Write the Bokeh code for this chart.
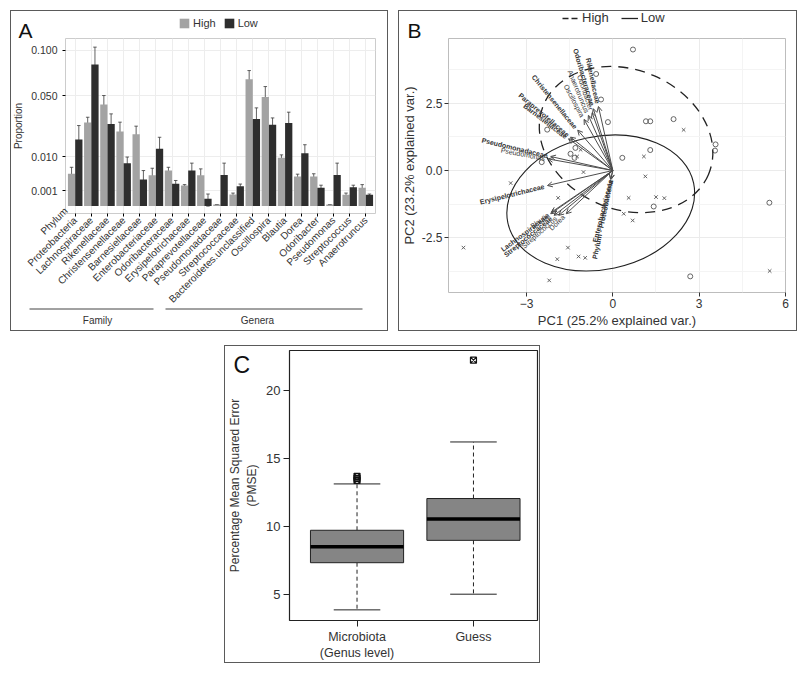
import numpy as np
from bokeh.plotting import figure
from bokeh.models import (FactorRange, ColumnDataSource, Whisker, TeeHead, Legend, LegendItem,
                          FixedTicker, CustomJSTickFormatter, NumeralTickFormatter, Label,
                          Arrow, OpenHead, Range1d, Div)
from bokeh.transform import dodge
from bokeh.embed import file_html
from bokeh.resources import INLINE
from bokeh.core.properties import value

FONT = "Liberation Sans"
TXT = "#333333"
HIGH_C = "#a3a3a3"
LOW_C = "#2e2e2e"

# ---------------- Panel A data ----------------
taxa = ["Phylum\nProteobacteria\n", "Lachnospiraceae", "Rikenellaceae", "Christensenellaceae",
        "Barnesiellaceae", "Enterobacteriaceae", "Odoribacteraceae", "Erysipelotrichaceae",
        "Paraprevotellaceae", "Pseudomonadaceae", "Streptococcaceae", "Bacteroidetes.unclassified",
        "Oscillospira", "Blautia", "Dorea", "Odoribacter", "Pseudomonas", "Streptococcus",
        "Anaerotruncus"]
high_mean = [0.0043, 0.0288, 0.0424, 0.0229, 0.0213, 0.0039, 0.0052, 0.00175, 0.0039, 0.00001,
             0.00055, 0.0662, 0.0490, 0.0096, 0.0036, 0.0036, 0.00001, 0.00052, 0.00138]
high_lo = [0.0020, 0.0256, 0.0338, 0.0160, 0.0160, 0.0020, 0.0043, 0.0016, 0.00147, 0.00001,
           0.00043, 0.0566, 0.0397, 0.0081, 0.0031, 0.0030, 0.00001, 0.0004, 0.00095]
high_hi = [0.0062, 0.0325, 0.0503, 0.0290, 0.0263, 0.0059, 0.0062, 0.0019, 0.0057, 0.00001,
           0.0007, 0.0756, 0.0588, 0.0108, 0.0042, 0.0043, 0.00001, 0.0007, 0.0019]
low_mean = [0.0183, 0.0825, 0.0278, 0.0076, 0.0029, 0.0135, 0.00205, 0.0052, 0.00022, 0.0040,
            0.00163, 0.0313, 0.0272, 0.0285, 0.0115, 0.00138, 0.0040, 0.00147, 0.00052]
low_lo = [0.0120, 0.0649, 0.0205, 0.0052, 0.0010, 0.0086, 0.00147, 0.0033, 0.0, 0.00147,
          0.0013, 0.0225, 0.0215, 0.0195, 0.0083, 0.00104, 0.00147, 0.00119, 0.0004]
low_hi = [0.0267, 0.1040, 0.0350, 0.0099, 0.0052, 0.0195, 0.0027, 0.0076, 0.0006, 0.0076,
          0.0020, 0.0397, 0.0320, 0.0363, 0.0155, 0.0018, 0.0076, 0.0018, 0.0006]
prop_ticks = [0.001, 0.010, 0.050, 0.100]
group_names = ["Family", "Genera"]

# ---------------- Panel B data ----------------
high_pc1 = [0.70, -0.58, -0.41, -0.17, -2.28, 1.15, 1.30, 2.11, 3.57, 3.55, -1.30, -1.47, -1.33,
            0.33, 1.30, -2.47, 1.42, 5.44, 2.69]
high_pc2 = [4.50, 3.59, 2.64, 1.80, 1.52, 1.83, 1.83, 1.91, 0.97, 0.74, 0.84, 0.62, 0.47,
            0.47, 0.76, 0.31, -1.34, -1.20, -3.94]
low_pc1 = [-1.12, -1.24, 1.08, -1.02, 2.46, 1.13, 0.55, 1.50, 1.79, 0.38, 0.69, 5.45, -3.55,
           -1.90, -5.19, -1.56, -1.93, -1.19, -0.96, -2.21]
low_pc2 = [0.77, 0.52, 0.52, -0.06, 1.51, -0.22, -1.02, -0.99, -1.03, -1.61, -1.86, -3.74, -0.47,
           -1.02, -2.87, -2.87, -3.30, -3.20, -3.25, -4.09]
fam_names = ["Rikenellaceae", "Odoribacteraceae", "Christensenellaceae", "Paraprevotellaceae",
             "Barnesiellaceae", "Pseudomonadaceae", "Erysipelotrichaceae", "Lachnospiraceae",
             "Streptococcaceae", "Enterobacteriaceae", "Phylum - Proteobacteria"]
fam_pc1 = [-0.50, -0.68, -1.22, -1.47, -1.54, -2.16, -2.27, -2.16, -2.04, -0.08, -0.07]
fam_pc2 = [2.38, 2.30, 1.50, 1.24, 1.18, 0.52, -0.56, -1.61, -1.67, -0.32, -0.34]
gen_names = ["Odoribacter", "Anaerotruncus", "Oscillospira", "Pseudomonas", "Blautia",
             "Streptococcus", "Dorea"]
gen_pc1 = [-0.72, -0.85, -1.00, -2.25, -2.13, -1.88, -1.62]
gen_pc2 = [2.15, 2.05, 1.90, 0.43, -1.55, -1.67, -1.61]
ell_cx = [0.46, -0.42]
ell_cy = [1.15, -1.21]
ell_w = [6.22, 6.60]
ell_h = [5.19, 4.94]
ell_angle = [-0.40, 0.21]

# ---------------- Panel C data ----------------
c_groups = ["Microbiota\n(Genus level)", "Guess"]
c_pos = [1, 2]
c_wlo = [3.90, 5.05]
c_q1 = [7.36, 9.00]
c_med = [8.53, 10.57]
c_q3 = [9.74, 12.07]
c_whi = [13.14, 16.22]
out_pos = [1, 1, 1, 2]
out_val = [13.40, 13.55, 13.70, 22.22]


def place(p, left, top):
    p.styles = {"position": "absolute", "left": f"{left}px", "top": f"{top}px"}


def frame_box(left, top, w, h):
    return Div(text="", width=w, height=h,
               styles={"position": "absolute", "left": f"{left}px", "top": f"{top}px",
                       "border": "1.5px solid #5a5a5a", "box-sizing": "border-box",
                       "padding": "0", "margin": "0"})


def base_style(p):
    for ax in p.axis:
        ax.major_label_text_font = FONT
        ax.major_label_text_color = TXT
        ax.axis_label_text_font = FONT
        ax.axis_label_text_font_style = "normal"
        ax.axis_label_text_color = TXT
        ax.minor_tick_line_color = None
        ax.major_tick_in = 0
        ax.axis_line_color = None
    p.background_fill_color = "white"
    p.border_fill_color = "white"


def overlay(w, h):
    o = figure(width=w, height=h, x_range=Range1d(0, w), y_range=Range1d(0, h),
               x_axis_type=None, y_axis_type=None, output_backend="svg",
               toolbar_location=None, min_border=0)
    o.background_fill_alpha = 0
    o.border_fill_alpha = 0
    o.outline_line_color = None
    return o


def letter(o, txt, x, y, size):
    o.add_layout(Label(x=x, y=y, text=txt, text_font=FONT, text_font_size=size,
                       text_color="#111111", text_baseline="bottom"))


# ================= Panel A =================
pA = figure(width=378, height=321,
            x_range=FactorRange(factors=taxa, range_padding=0.2 / 19),
            y_range=Range1d(-0.015, 0.340), output_backend="svg", toolbar_location=None,
            min_border_left=50, min_border_right=13, min_border_top=28, min_border_bottom=118)
base_style(pA)
place(pA, 10, 10)
srcA = ColumnDataSource(dict(taxa=taxa,
                             h=np.sqrt(high_mean), hl=np.sqrt(high_lo), hh=np.sqrt(high_hi),
                             l=np.sqrt(low_mean), ll=np.sqrt(low_lo), lh=np.sqrt(low_hi)))
pA.vbar(x=dodge("taxa", -0.225, range=pA.x_range), top="h", bottom=0, width=0.45,
        fill_color=HIGH_C, line_color=None, source=srcA)
pA.vbar(x=dodge("taxa", 0.225, range=pA.x_range), top="l", bottom=0, width=0.45,
        fill_color=LOW_C, line_color=None, source=srcA)
for off, lo, hi in [(-0.225, "hl", "hh"), (0.225, "ll", "lh")]:
    pA.add_layout(Whisker(source=srcA, base=dodge("taxa", off, range=pA.x_range), lower=lo,
                          upper=hi, dimension="height", line_color="#3a3a3a", line_width=0.8,
                          upper_head=TeeHead(size=3.5, line_color="#3a3a3a", line_width=0.8),
                          lower_head=TeeHead(size=3.5, line_color="#3a3a3a", line_width=0.8)))
pA.yaxis.ticker = FixedTicker(ticks=list(np.sqrt(prop_ticks)))
pA.yaxis.formatter = CustomJSTickFormatter(code="return (tick*tick).toFixed(3);")
pA.yaxis.axis_label = "Proportion"
pA.yaxis.axis_label_text_font_size = "10px"
pA.yaxis.major_label_text_font_size = "10.5px"
pA.yaxis.axis_label_standoff = 4
pA.yaxis.major_tick_out = 3
pA.xaxis.major_tick_out = 3
pA.xaxis.major_label_orientation = np.pi / 4
pA.xaxis.major_label_text_font_size = "10px"
pA.xaxis.major_label_standoff = 2
pA.xgrid.grid_line_color = "#ededed"
pA.ygrid.grid_line_color = "#ededed"
pA.outline_line_color = "#cccccc"

# header of A: letter + legend (swatch renderers sit outside the visible range)
hA = overlay(378, 40)
place(hA, 10, 10)
letter(hA, "A", 8, 8.5, "21px")
dh = hA.vbar(x=[-50], top=[-50], bottom=[-60], width=1, fill_color=HIGH_C, line_color=None)
dl = hA.vbar(x=[-50], top=[-50], bottom=[-60], width=1, fill_color=LOW_C, line_color=None)
hA.add_layout(Legend(items=[LegendItem(label="High", renderers=[dh]),
                            LegendItem(label="Low", renderers=[dl])],
                     orientation="horizontal", location=(168, 21), padding=0, margin=0,
                     spacing=7, glyph_width=12, glyph_height=12, label_height=12,
                     label_standoff=3, label_text_font=FONT, label_text_font_size="11px",
                     label_text_color=TXT, border_line_color=None, background_fill_alpha=0))

# footer of A: Family / Genera brackets
fA = overlay(378, 33)
place(fA, 10, 298)
fA.segment(x0=[19, 155], y0=[22.5, 22.5], x1=[143, 352], y1=[22.5, 22.5],
           line_color="#444444", line_width=1)
fA.text(x=[87, 247], y=[11.5, 11.5], text=group_names, text_align="center",
        text_baseline="middle", text_font=value(FONT), text_font_size="10px", text_color=TXT)

# ================= Panel B =================
pB = figure(width=399, height=321, x_range=Range1d(-5.71, 6.0), y_range=Range1d(-4.54, 4.91),
            output_backend="svg", toolbar_location=None,
            min_border_left=49, min_border_right=12, min_border_top=28, min_border_bottom=39)
base_style(pB)
place(pB, 398, 10)
pB.xaxis.ticker = FixedTicker(ticks=[-3, 0, 3, 6], minor_ticks=[-4.5, -1.5, 1.5, 4.5])
pB.yaxis.ticker = FixedTicker(ticks=[-2.5, 0, 2.5], minor_ticks=[-3.75, -1.25, 1.25, 3.75])
pB.yaxis.formatter = NumeralTickFormatter(format="0.0")
pB.xaxis.axis_label = "PC1 (25.2% explained var.)"
pB.yaxis.axis_label = "PC2 (23.2% explained var.)"
for ax in pB.axis:
    ax.axis_label_text_font_size = "13px"
    ax.major_label_text_font_size = "12px"
    ax.major_tick_out = 4
    ax.major_tick_line_color = "#333333"
    ax.axis_label_standoff = 2
    ax.major_label_standoff = 2
pB.xgrid.grid_line_color = "#ebebeb"
pB.ygrid.grid_line_color = "#ebebeb"
pB.xgrid.minor_grid_line_color = "#f4f4f4"
pB.ygrid.minor_grid_line_color = "#f4f4f4"
pB.outline_line_color = "#bdbdbd"

pB.scatter(high_pc1, high_pc2, marker="circle", size=5, fill_color=None,
           line_color="#555555", line_width=0.9)
pB.scatter(low_pc1, low_pc2, marker="x", size=5, line_color="#555555", line_width=0.9)
pB.ellipse(x=ell_cx[0], y=ell_cy[0], width=ell_w[0], height=ell_h[0], angle=ell_angle[0],
           fill_color=None, line_color="#222222", line_width=1.3, line_dash="10 7")
pB.ellipse(x=ell_cx[1], y=ell_cy[1], width=ell_w[1], height=ell_h[1], angle=ell_angle[1],
           fill_color=None, line_color="#222222", line_width=1.1)

all_x = np.array(fam_pc1 + gen_pc1)
all_y = np.array(fam_pc2 + gen_pc2)
srcL = ColumnDataSource(dict(x0=np.zeros(len(all_x)), y0=np.zeros(len(all_x)),
                             x1=all_x, y1=all_y))
pB.add_layout(Arrow(end=OpenHead(size=5, line_color="#4d4d4d", line_width=1),
                    x_start="x0", y_start="y0", x_end="x1", y_end="y1", source=srcL,
                    line_color="#4d4d4d", line_width=1))
for names, xs, ys, style in [(fam_names, fam_pc1, fam_pc2, "bold"),
                             (gen_names, gen_pc1, gen_pc2, "normal")]:
    xs = np.array(xs)
    ys = np.array(ys)
    pB.text(x=xs * 1.05, y=ys * 1.05, text=names, angle=np.arctan(ys / xs),
            text_align="right", text_baseline="middle", text_font=value(FONT),
            text_font_size="7px", text_font_style=style, text_color="#333333")

hB = overlay(399, 40)
place(hB, 398, 10)
letter(hB, "B", 9, 8.5, "21px")
lh = hB.line(x=[-50, -40], y=[-50, -50], line_color="#222222", line_width=1.3, line_dash="6 3")
ll = hB.line(x=[-50, -40], y=[-50, -50], line_color="#222222", line_width=1.3)
hB.add_layout(Legend(items=[LegendItem(label="High", renderers=[lh]),
                            LegendItem(label="Low", renderers=[ll])],
                     orientation="horizontal", location=(164, 25), padding=0, margin=0,
                     spacing=12, glyph_width=17, glyph_height=14, label_height=14,
                     label_standoff=3, label_text_font=FONT, label_text_font_size="13px",
                     label_text_color=TXT, border_line_color=None, background_fill_alpha=0))

# ================= Panel C =================
pC = figure(width=316, height=318, x_range=Range1d(0.42, 2.55), y_range=Range1d(3.12, 22.93),
            output_backend="svg", toolbar_location=None,
            min_border_left=65, min_border_right=3, min_border_top=5, min_border_bottom=42)
base_style(pC)
place(pC, 224, 345)
pC.xgrid.grid_line_color = None
pC.ygrid.grid_line_color = None
pC.outline_line_color = "#222222"
pC.outline_line_width = 1.2
pC.xaxis.ticker = FixedTicker(ticks=c_pos)
pC.xaxis.major_label_overrides = {c_pos[i]: c_groups[i] for i in range(len(c_pos))}
pC.yaxis.ticker = FixedTicker(ticks=[5, 10, 15, 20])
pC.yaxis.axis_label = "Percentage Mean Squared Error\n(PMSE)"
for ax in pC.axis:
    ax.major_tick_out = 6
    ax.major_tick_line_color = "#222222"
    ax.major_label_text_font_size = "13px"
    ax.axis_label_text_font_size = "12px"
    ax.major_label_standoff = 3
    ax.axis_label_standoff = 4
pC.xaxis.major_label_text_font_size = "12.5px"

cpos = np.array(c_pos, dtype=float)
pC.segment(x0=cpos, y0=c_q3, x1=cpos, y1=c_whi, line_color="#222222", line_dash="4 3", line_width=1)
pC.segment(x0=cpos, y0=c_q1, x1=cpos, y1=c_wlo, line_color="#222222", line_dash="4 3", line_width=1)
pC.segment(x0=cpos - 0.2, y0=c_whi, x1=cpos + 0.2, y1=c_whi, line_color="#222222", line_width=1)
pC.segment(x0=cpos - 0.2, y0=c_wlo, x1=cpos + 0.2, y1=c_wlo, line_color="#222222", line_width=1)
pC.vbar(x=cpos, bottom=c_q1, top=c_q3, width=0.8, fill_color="#858585", line_color="#222222",
        line_width=1)
pC.segment(x0=cpos - 0.4, y0=c_med, x1=cpos + 0.4, y1=c_med, line_color="#000000", line_width=3.5)
pC.scatter(out_pos, out_val, marker="square_x", size=6, fill_color=None, line_color="#111111",
           line_width=1.2)

hC = overlay(60, 40)
place(hC, 224, 345)
letter(hC, "C", 9, 8, "23px")

roots = [pA, hA, fA, pB, hB, pC, hC,
         frame_box(10, 10, 378, 321), frame_box(398, 10, 399, 321), frame_box(224, 345, 316, 318)]
open("out.html", "w").write(file_html(roots, INLINE))
